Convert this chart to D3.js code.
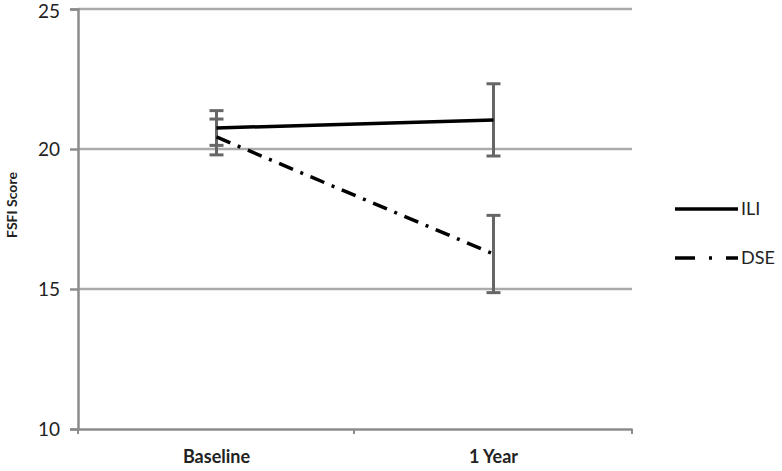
<!DOCTYPE html>
<html>
<head>
<meta charset="utf-8">
<script src="https://cdn.jsdelivr.net/npm/d3@7"></script>
<style>
  body { margin: 0; background: #fff; }
  text { font-family: Lato, "Open Sans", sans-serif; }
</style>
</head>
<body>
<div id="chart"></div>
<script>
var width = 782;
var height = 471;

var categories = ["Baseline", "1 Year"];
var yTicks = [10, 15, 20, 25];
var seriesNames = ["ILI", "DSE"];
var iliMean = [20.75, 21.04];
var iliErr = [0.62, 1.29];
var dseMean = [20.43, 16.25];
var dseErr = [0.64, 1.38];

var margin = {left: 78, right: 150, top: 9, bottom: 42};

var svg = d3.select("#chart")
  .append("svg")
  .attr("width", width)
  .attr("height", height);

var x = d3.scaleBand().domain(categories).range([margin.left, 632]);
var y = d3.scaleLinear().domain([10, 25]).range([height - margin.bottom, margin.top]);

// gridlines
svg.append("g")
  .selectAll("line")
  .data(yTicks.slice(1))
  .enter()
  .append("line")
  .attr("x1", margin.left)
  .attr("x2", 632)
  .attr("y1", function(d) { return y(d); })
  .attr("y2", function(d) { return y(d); })
  .style("stroke", "#ababab")
  .style("stroke-width", 2.5);

// y axis
var yAxis = svg.append("g")
  .attr("transform", "translate(" + margin.left + ",0)")
  .call(d3.axisLeft(y).tickValues(yTicks).tickSize(8).tickPadding(10));
yAxis.select(".domain").style("stroke", "#8c8c8c").style("stroke-width", 2.5);
yAxis.selectAll(".tick line").style("stroke", "#8c8c8c").style("stroke-width", 2.5);
yAxis.selectAll("text").style("font-size", "19px").style("fill", "#222")
  .attr("dy", function(d) { return d === 25 ? "0.45em" : "0.32em"; });

// x axis
var xAxis = svg.append("g")
  .attr("transform", "translate(0," + y(10) + ")")
  .call(d3.axisBottom(x).tickSize(0).tickPadding(21));
xAxis.select(".domain").style("stroke", "#8c8c8c").style("stroke-width", 2.5);
xAxis.selectAll("text").style("font-size", "18px").style("font-weight", "bold").style("fill", "#222");
svg.append("g")
  .selectAll("line")
  .data([margin.left, 354, 632])
  .enter()
  .append("line")
  .attr("x1", function(d) { return d; })
  .attr("x2", function(d) { return d; })
  .attr("y1", y(10))
  .attr("y2", y(10) + 5)
  .style("stroke", "#8c8c8c")
  .style("stroke-width", 2);

// y title
svg.append("text")
  .attr("transform", "translate(17,205) rotate(-90)")
  .attr("text-anchor", "middle")
  .style("font-size", "14px")
  .style("font-weight", "bold")
  .style("fill", "#222")
  .text("FSFI Score");

var cx = function(i) { return x(categories[i]) + x.bandwidth() / 2; };

var series = [
  {name: "ILI", mean: iliMean, err: iliErr, dash: null},
  {name: "DSE", mean: dseMean, err: dseErr, dash: "15,8,3,8"}
];

var line = d3.line()
  .x(function(d, i) { return cx(i); })
  .y(function(d) { return y(d); });

// error bars
series.forEach(function(s) {
  var g = svg.append("g");
  s.mean.forEach(function(m, i) {
    var lo = y(m - s.err[i]), hi = y(m + s.err[i]);
    g.append("line").attr("x1", cx(i)).attr("x2", cx(i)).attr("y1", lo).attr("y2", hi)
      .style("stroke", "#666").style("stroke-width", 3);
    [lo, hi].forEach(function(v) {
      g.append("line").attr("x1", cx(i) - 7).attr("x2", cx(i) + 7).attr("y1", v).attr("y2", v)
        .style("stroke", "#666").style("stroke-width", 3);
    });
  });
});

// lines
series.forEach(function(s) {
  svg.append("path")
    .datum(s.mean)
    .attr("d", line)
    .style("fill", "none")
    .style("stroke", "#000")
    .style("stroke-width", 3.5)
    .style("stroke-dasharray", s.dash);
});

// legend
var legend = svg.append("g")
  .selectAll("g")
  .data(series)
  .enter()
  .append("g")
  .attr("transform", function(d, i) { return "translate(675," + (209 + i * 49) + ")"; });
legend.append("line")
  .attr("x1", 0).attr("x2", 63)
  .style("stroke", "#000")
  .style("stroke-width", 3.5)
  .style("stroke-dasharray", function(d) { return d.dash ? "20,14,3,14" : null; });
legend.append("text")
  .attr("x", 66)
  .attr("dy", "0.35em")
  .style("font-size", "18px")
  .style("fill", "#222")
  .text(function(d) { return d.name; });
</script>
</body>
</html>
